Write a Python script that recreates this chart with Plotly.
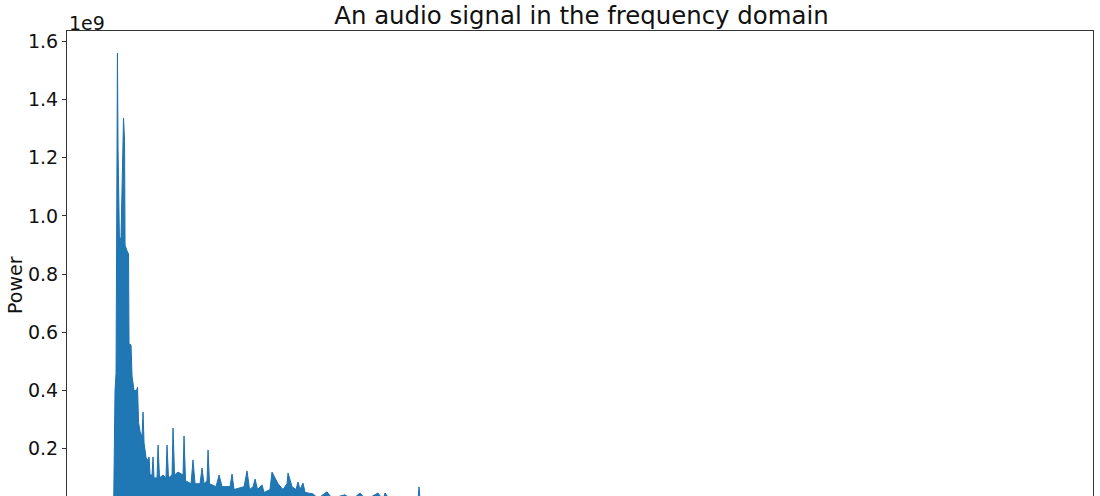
import plotly.graph_objects as go

# Envelope of the power spectrum
freq_hz = [0, 33, 57, 76, 90, 104, 118, 139, 175, 210, 234, 258, 270, 317, 352, 364,
           411, 435, 482, 541, 565, 589, 624, 671, 695, 719, 766, 813, 837, 861,
           908, 931, 955, 1026, 1050, 1085, 1168, 1238, 1262, 1297, 1381, 1404, 1440,
           1522, 1641, 1664, 1700, 1830, 1877, 1924, 2042, 2090, 2137, 2208, 2232, 2267,
           2421, 2492, 2563, 2752, 2799, 2846, 3083, 3154, 3213, 3296, 3343, 3402,
           3485, 3508, 3556, 3697, 3744, 3886, 4004, 4099, 4123, 4217, 4312, 4359,
           4406, 4477, 4525, 4713, 4832, 5044, 5162, 5469, 5635, 5824, 5966, 6249,
           6368, 6415, 6533, 7196, 7220, 7243, 7716, 11498, 16226, 22050]
power_e9 = [0.0, 0.40, 0.46, 1.23, 1.56, 1.23, 1.00, 0.90, 0.93, 1.23, 1.337, 1.26, 0.90, 0.88, 0.87, 0.56,
            0.557, 0.45, 0.40, 0.40, 0.412, 0.29, 0.26, 0.24, 0.326, 0.22, 0.17, 0.16, 0.172, 0.11,
            0.11, 0.172, 0.10, 0.10, 0.213, 0.10, 0.11, 0.10, 0.213, 0.10, 0.11, 0.271, 0.11,
            0.12, 0.11, 0.244, 0.09, 0.08, 0.162, 0.08, 0.08, 0.134, 0.08, 0.09, 0.196, 0.08,
            0.07, 0.110, 0.07, 0.07, 0.113, 0.06, 0.07, 0.124, 0.06, 0.07, 0.096, 0.06,
            0.07, 0.076, 0.05, 0.06, 0.120, 0.08, 0.06, 0.08, 0.117, 0.07, 0.06, 0.086,
            0.06, 0.082, 0.05, 0.045, 0.03, 0.052, 0.03, 0.042, 0.025, 0.048, 0.025, 0.048,
            0.025, 0.048, 0.025, 0.025, 0.069, 0.025, 0.02, 0.012, 0.008, 0.0]

ytick_vals = [0.2, 0.4, 0.6, 0.8, 1.0, 1.2, 1.4, 1.6]
ytick_text = ["0.2", "0.4", "0.6", "0.8", "1.0", "1.2", "1.4", "1.6"]

power = [p * 1e9 for p in power_e9]
fmax = max(freq_hz)

fig = go.Figure()
fig.add_trace(go.Scatter(
    x=freq_hz, y=power, mode="lines",
    line=dict(color="#1f71b0", width=1),
    fill="tozeroy", fillcolor="#1f77b4",
    showlegend=False,
))

font_family = "DejaVu Sans"
fig.update_layout(
    width=1100, height=496,
    margin=dict(l=67, r=7, t=31, b=0),
    paper_bgcolor="white", plot_bgcolor="white",
    font=dict(family=font_family, color="#111111"),
    title=dict(text="An audio signal in the frequency domain",
               x=0.5286, xanchor="center", y=0.968, yanchor="middle",
               font=dict(size=24.4, family=font_family, color="#111111")),
    xaxis=dict(range=[-0.05 * fmax, 1.05 * fmax], showgrid=False, zeroline=False,
               showticklabels=False, ticks="", showline=True, linecolor="#333333",
               linewidth=1, mirror=True, automargin=False),
    yaxis=dict(range=[0.0378e9, 1.6357e9], showgrid=False, zeroline=False,
               tickmode="array", tickvals=[v * 1e9 for v in ytick_vals], ticktext=ytick_text,
               ticks="outside", ticklen=4, tickcolor="#333333",
               tickfont=dict(size=19, family=font_family, color="#111111"),
               showline=True, linecolor="#333333", linewidth=1, mirror=True,
               automargin=False),
    annotations=[
        dict(text="1e9", xref="paper", yref="paper", x=0.0, y=1.0,
             xanchor="left", yanchor="bottom", showarrow=False, yshift=-5,
             font=dict(size=19, family=font_family, color="#111111")),
        dict(text="Power", xref="paper", yref="paper", x=-0.0507, y=0.4538,
             xanchor="center", yanchor="middle", textangle=-90, showarrow=False,
             font=dict(size=19, family=font_family, color="#111111")),
    ],
)

fig.write_html("out.html", config={"displayModeBar": False},
               post_script="document.body.style.margin='0';")
